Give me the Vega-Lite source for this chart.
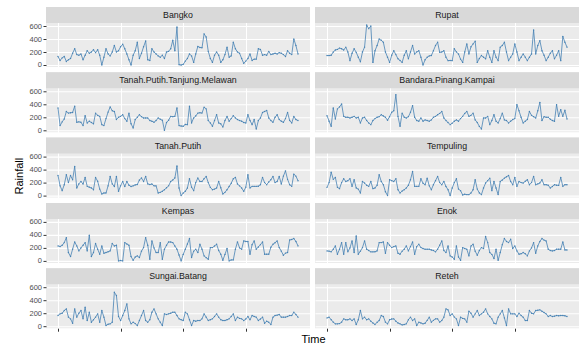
{
  "$schema": "https://vega.github.io/schema/vega-lite/v6.json",
  "background": "#ffffff",
  "padding": {"left": 13, "top": 7, "right": 0, "bottom": 2},
  "title": {"text": "Time", "orient": "bottom", "anchor": "middle", "fontSize": 11, "fontWeight": "normal", "color": "#000000", "font": "Liberation Sans", "offset": 2, "dx": 17},
  "columns": 2,
  "bounds": "flush",
  "spacing": {"row": 5.3, "column": 5},
  "config": {
    "view": {"fill": "#ebebeb", "stroke": null},
    "axis": {"domain": false, "grid": true, "gridColor": "#ffffff", "tickColor": "#333333", "tickSize": 3, "tickWidth": 1, "labelColor": "#4d4d4d", "labelFontSize": 7.5, "labelFont": "Liberation Sans", "labelPadding": 1.5, "titleFont": "Liberation Sans", "titleFontSize": 11, "titleFontWeight": "normal", "titleColor": "#000000", "titlePadding": 4}
  },
  "concat": [
    {"width": 264, "height": 60, "resolve": {"axis": {"x": "independent", "y": "independent"}}, "layer": [
      {"data": {"name": "bangko"}, "mark": {"type": "line", "color": "#4682b4", "strokeWidth": 0.8}, "encoding": {
        "x": {"field": "t", "type": "quantitative", "scale": {"domain": [-5.75, 120.75], "nice": false, "zero": false}, "axis": {"values": [0, 30, 60, 90], "gridWidth": 1.1, "labels": false, "ticks": false, "title": null}},
        "y": {"field": "r", "type": "quantitative", "scale": {"domain": [-31, 893.5], "nice": false, "zero": false}, "axis": {"values": [0, 200, 400, 600], "gridWidth": 1.1, "title": null}}}},
      {"data": {"name": "bangko"}, "mark": {"type": "circle", "color": "#4682b4", "size": 2, "opacity": 1}, "encoding": {
        "x": {"field": "t", "type": "quantitative", "axis": {"values": [15, 45, 75, 105], "gridWidth": 0.5, "labels": false, "ticks": false, "title": null}},
        "y": {"field": "r", "type": "quantitative", "axis": {"values": [100, 300, 500], "gridWidth": 0.5, "labels": false, "ticks": false, "title": null}}}},
      {"data": {"values": [{}]}, "mark": {"type": "rect", "fill": "#d9d9d9"}, "encoding": {"x": {"datum": -5.75, "type": "quantitative", "axis": null}, "x2": {"datum": 120.75}, "y": {"datum": 647, "type": "quantitative", "axis": null}, "y2": {"datum": 893.5}}},
      {"data": {"values": [{}]}, "mark": {"type": "text", "text": "Bangko", "font": "Liberation Sans", "fontSize": 8.8, "color": "#1a1a1a"}, "encoding": {"x": {"datum": 57.5, "type": "quantitative", "axis": null}, "y": {"datum": 770, "type": "quantitative", "axis": null}}}
    ]},
    {"width": 264, "height": 60, "resolve": {"axis": {"x": "independent", "y": "independent"}}, "layer": [
      {"data": {"name": "rupat"}, "mark": {"type": "line", "color": "#4682b4", "strokeWidth": 0.8}, "encoding": {
        "x": {"field": "t", "type": "quantitative", "scale": {"domain": [-5.75, 120.75], "nice": false, "zero": false}, "axis": {"values": [0, 30, 60, 90], "gridWidth": 1.1, "labels": false, "ticks": false, "title": null}},
        "y": {"field": "r", "type": "quantitative", "scale": {"domain": [-31, 893.5], "nice": false, "zero": false}, "axis": {"values": [0, 200, 400, 600], "gridWidth": 1.1, "labels": false, "ticks": false, "title": null}}}},
      {"data": {"name": "rupat"}, "mark": {"type": "circle", "color": "#4682b4", "size": 2, "opacity": 1}, "encoding": {
        "x": {"field": "t", "type": "quantitative", "axis": {"values": [15, 45, 75, 105], "gridWidth": 0.5, "labels": false, "ticks": false, "title": null}},
        "y": {"field": "r", "type": "quantitative", "axis": {"values": [100, 300, 500], "gridWidth": 0.5, "labels": false, "ticks": false, "title": null}}}},
      {"data": {"values": [{}]}, "mark": {"type": "rect", "fill": "#d9d9d9"}, "encoding": {"x": {"datum": -5.75, "type": "quantitative", "axis": null}, "x2": {"datum": 120.75}, "y": {"datum": 647, "type": "quantitative", "axis": null}, "y2": {"datum": 893.5}}},
      {"data": {"values": [{}]}, "mark": {"type": "text", "text": "Rupat", "font": "Liberation Sans", "fontSize": 8.8, "color": "#1a1a1a"}, "encoding": {"x": {"datum": 57.5, "type": "quantitative", "axis": null}, "y": {"datum": 770, "type": "quantitative", "axis": null}}}
    ]},
    {"width": 264, "height": 60, "resolve": {"axis": {"x": "independent", "y": "independent"}}, "layer": [
      {"data": {"name": "tptm"}, "mark": {"type": "line", "color": "#4682b4", "strokeWidth": 0.8}, "encoding": {
        "x": {"field": "t", "type": "quantitative", "scale": {"domain": [-5.75, 120.75], "nice": false, "zero": false}, "axis": {"values": [0, 30, 60, 90], "gridWidth": 1.1, "labels": false, "ticks": false, "title": null}},
        "y": {"field": "r", "type": "quantitative", "scale": {"domain": [-31, 893.5], "nice": false, "zero": false}, "axis": {"values": [0, 200, 400, 600], "gridWidth": 1.1, "title": null}}}},
      {"data": {"name": "tptm"}, "mark": {"type": "circle", "color": "#4682b4", "size": 2, "opacity": 1}, "encoding": {
        "x": {"field": "t", "type": "quantitative", "axis": {"values": [15, 45, 75, 105], "gridWidth": 0.5, "labels": false, "ticks": false, "title": null}},
        "y": {"field": "r", "type": "quantitative", "axis": {"values": [100, 300, 500], "gridWidth": 0.5, "labels": false, "ticks": false, "title": null}}}},
      {"data": {"values": [{}]}, "mark": {"type": "rect", "fill": "#d9d9d9"}, "encoding": {"x": {"datum": -5.75, "type": "quantitative", "axis": null}, "x2": {"datum": 120.75}, "y": {"datum": 647, "type": "quantitative", "axis": null}, "y2": {"datum": 893.5}}},
      {"data": {"values": [{}]}, "mark": {"type": "text", "text": "Tanah.Putih.Tanjung.Melawan", "font": "Liberation Sans", "fontSize": 8.8, "color": "#1a1a1a"}, "encoding": {"x": {"datum": 57.5, "type": "quantitative", "axis": null}, "y": {"datum": 770, "type": "quantitative", "axis": null}}}
    ]},
    {"width": 264, "height": 60, "resolve": {"axis": {"x": "independent", "y": "independent"}}, "layer": [
      {"data": {"name": "bpk"}, "mark": {"type": "line", "color": "#4682b4", "strokeWidth": 0.8}, "encoding": {
        "x": {"field": "t", "type": "quantitative", "scale": {"domain": [-5.75, 120.75], "nice": false, "zero": false}, "axis": {"values": [0, 30, 60, 90], "gridWidth": 1.1, "labels": false, "ticks": false, "title": null}},
        "y": {"field": "r", "type": "quantitative", "scale": {"domain": [-31, 893.5], "nice": false, "zero": false}, "axis": {"values": [0, 200, 400, 600], "gridWidth": 1.1, "labels": false, "ticks": false, "title": null}}}},
      {"data": {"name": "bpk"}, "mark": {"type": "circle", "color": "#4682b4", "size": 2, "opacity": 1}, "encoding": {
        "x": {"field": "t", "type": "quantitative", "axis": {"values": [15, 45, 75, 105], "gridWidth": 0.5, "labels": false, "ticks": false, "title": null}},
        "y": {"field": "r", "type": "quantitative", "axis": {"values": [100, 300, 500], "gridWidth": 0.5, "labels": false, "ticks": false, "title": null}}}},
      {"data": {"values": [{}]}, "mark": {"type": "rect", "fill": "#d9d9d9"}, "encoding": {"x": {"datum": -5.75, "type": "quantitative", "axis": null}, "x2": {"datum": 120.75}, "y": {"datum": 647, "type": "quantitative", "axis": null}, "y2": {"datum": 893.5}}},
      {"data": {"values": [{}]}, "mark": {"type": "text", "text": "Bandara.Pinang.Kampai", "font": "Liberation Sans", "fontSize": 8.8, "color": "#1a1a1a"}, "encoding": {"x": {"datum": 57.5, "type": "quantitative", "axis": null}, "y": {"datum": 770, "type": "quantitative", "axis": null}}}
    ]},
    {"width": 264, "height": 60, "resolve": {"axis": {"x": "independent", "y": "independent"}}, "layer": [
      {"data": {"name": "tp"}, "mark": {"type": "line", "color": "#4682b4", "strokeWidth": 0.8}, "encoding": {
        "x": {"field": "t", "type": "quantitative", "scale": {"domain": [-5.75, 120.75], "nice": false, "zero": false}, "axis": {"values": [0, 30, 60, 90], "gridWidth": 1.1, "labels": false, "ticks": false, "title": null}},
        "y": {"field": "r", "type": "quantitative", "scale": {"domain": [-31, 893.5], "nice": false, "zero": false}, "axis": {"values": [0, 200, 400, 600], "gridWidth": 1.1, "title": "Rainfall", "titleY": 38}}}},
      {"data": {"name": "tp"}, "mark": {"type": "circle", "color": "#4682b4", "size": 2, "opacity": 1}, "encoding": {
        "x": {"field": "t", "type": "quantitative", "axis": {"values": [15, 45, 75, 105], "gridWidth": 0.5, "labels": false, "ticks": false, "title": null}},
        "y": {"field": "r", "type": "quantitative", "axis": {"values": [100, 300, 500], "gridWidth": 0.5, "labels": false, "ticks": false, "title": null}}}},
      {"data": {"values": [{}]}, "mark": {"type": "rect", "fill": "#d9d9d9"}, "encoding": {"x": {"datum": -5.75, "type": "quantitative", "axis": null}, "x2": {"datum": 120.75}, "y": {"datum": 647, "type": "quantitative", "axis": null}, "y2": {"datum": 893.5}}},
      {"data": {"values": [{}]}, "mark": {"type": "text", "text": "Tanah.Putih", "font": "Liberation Sans", "fontSize": 8.8, "color": "#1a1a1a"}, "encoding": {"x": {"datum": 57.5, "type": "quantitative", "axis": null}, "y": {"datum": 770, "type": "quantitative", "axis": null}}}
    ]},
    {"width": 264, "height": 60, "resolve": {"axis": {"x": "independent", "y": "independent"}}, "layer": [
      {"data": {"name": "tempuling"}, "mark": {"type": "line", "color": "#4682b4", "strokeWidth": 0.8}, "encoding": {
        "x": {"field": "t", "type": "quantitative", "scale": {"domain": [-5.75, 120.75], "nice": false, "zero": false}, "axis": {"values": [0, 30, 60, 90], "gridWidth": 1.1, "labels": false, "ticks": false, "title": null}},
        "y": {"field": "r", "type": "quantitative", "scale": {"domain": [-31, 893.5], "nice": false, "zero": false}, "axis": {"values": [0, 200, 400, 600], "gridWidth": 1.1, "labels": false, "ticks": false, "title": null}}}},
      {"data": {"name": "tempuling"}, "mark": {"type": "circle", "color": "#4682b4", "size": 2, "opacity": 1}, "encoding": {
        "x": {"field": "t", "type": "quantitative", "axis": {"values": [15, 45, 75, 105], "gridWidth": 0.5, "labels": false, "ticks": false, "title": null}},
        "y": {"field": "r", "type": "quantitative", "axis": {"values": [100, 300, 500], "gridWidth": 0.5, "labels": false, "ticks": false, "title": null}}}},
      {"data": {"values": [{}]}, "mark": {"type": "rect", "fill": "#d9d9d9"}, "encoding": {"x": {"datum": -5.75, "type": "quantitative", "axis": null}, "x2": {"datum": 120.75}, "y": {"datum": 647, "type": "quantitative", "axis": null}, "y2": {"datum": 893.5}}},
      {"data": {"values": [{}]}, "mark": {"type": "text", "text": "Tempuling", "font": "Liberation Sans", "fontSize": 8.8, "color": "#1a1a1a"}, "encoding": {"x": {"datum": 57.5, "type": "quantitative", "axis": null}, "y": {"datum": 770, "type": "quantitative", "axis": null}}}
    ]},
    {"width": 264, "height": 60, "resolve": {"axis": {"x": "independent", "y": "independent"}}, "layer": [
      {"data": {"name": "kempas"}, "mark": {"type": "line", "color": "#4682b4", "strokeWidth": 0.8}, "encoding": {
        "x": {"field": "t", "type": "quantitative", "scale": {"domain": [-5.75, 120.75], "nice": false, "zero": false}, "axis": {"values": [0, 30, 60, 90], "gridWidth": 1.1, "labels": false, "ticks": false, "title": null}},
        "y": {"field": "r", "type": "quantitative", "scale": {"domain": [-31, 893.5], "nice": false, "zero": false}, "axis": {"values": [0, 200, 400, 600], "gridWidth": 1.1, "title": null}}}},
      {"data": {"name": "kempas"}, "mark": {"type": "circle", "color": "#4682b4", "size": 2, "opacity": 1}, "encoding": {
        "x": {"field": "t", "type": "quantitative", "axis": {"values": [15, 45, 75, 105], "gridWidth": 0.5, "labels": false, "ticks": false, "title": null}},
        "y": {"field": "r", "type": "quantitative", "axis": {"values": [100, 300, 500], "gridWidth": 0.5, "labels": false, "ticks": false, "title": null}}}},
      {"data": {"values": [{}]}, "mark": {"type": "rect", "fill": "#d9d9d9"}, "encoding": {"x": {"datum": -5.75, "type": "quantitative", "axis": null}, "x2": {"datum": 120.75}, "y": {"datum": 647, "type": "quantitative", "axis": null}, "y2": {"datum": 893.5}}},
      {"data": {"values": [{}]}, "mark": {"type": "text", "text": "Kempas", "font": "Liberation Sans", "fontSize": 8.8, "color": "#1a1a1a"}, "encoding": {"x": {"datum": 57.5, "type": "quantitative", "axis": null}, "y": {"datum": 770, "type": "quantitative", "axis": null}}}
    ]},
    {"width": 264, "height": 60, "resolve": {"axis": {"x": "independent", "y": "independent"}}, "layer": [
      {"data": {"name": "enok"}, "mark": {"type": "line", "color": "#4682b4", "strokeWidth": 0.8}, "encoding": {
        "x": {"field": "t", "type": "quantitative", "scale": {"domain": [-5.75, 120.75], "nice": false, "zero": false}, "axis": {"values": [0, 30, 60, 90], "gridWidth": 1.1, "labels": false, "ticks": false, "title": null}},
        "y": {"field": "r", "type": "quantitative", "scale": {"domain": [-31, 893.5], "nice": false, "zero": false}, "axis": {"values": [0, 200, 400, 600], "gridWidth": 1.1, "labels": false, "ticks": false, "title": null}}}},
      {"data": {"name": "enok"}, "mark": {"type": "circle", "color": "#4682b4", "size": 2, "opacity": 1}, "encoding": {
        "x": {"field": "t", "type": "quantitative", "axis": {"values": [15, 45, 75, 105], "gridWidth": 0.5, "labels": false, "ticks": false, "title": null}},
        "y": {"field": "r", "type": "quantitative", "axis": {"values": [100, 300, 500], "gridWidth": 0.5, "labels": false, "ticks": false, "title": null}}}},
      {"data": {"values": [{}]}, "mark": {"type": "rect", "fill": "#d9d9d9"}, "encoding": {"x": {"datum": -5.75, "type": "quantitative", "axis": null}, "x2": {"datum": 120.75}, "y": {"datum": 647, "type": "quantitative", "axis": null}, "y2": {"datum": 893.5}}},
      {"data": {"values": [{}]}, "mark": {"type": "text", "text": "Enok", "font": "Liberation Sans", "fontSize": 8.8, "color": "#1a1a1a"}, "encoding": {"x": {"datum": 57.5, "type": "quantitative", "axis": null}, "y": {"datum": 770, "type": "quantitative", "axis": null}}}
    ]},
    {"width": 264, "height": 60, "resolve": {"axis": {"x": "independent", "y": "independent"}}, "layer": [
      {"data": {"name": "sb"}, "mark": {"type": "line", "color": "#4682b4", "strokeWidth": 0.8}, "encoding": {
        "x": {"field": "t", "type": "quantitative", "scale": {"domain": [-5.75, 120.75], "nice": false, "zero": false}, "axis": {"values": [0, 30, 60, 90], "gridWidth": 1.1, "labels": false, "title": null}},
        "y": {"field": "r", "type": "quantitative", "scale": {"domain": [-31, 893.5], "nice": false, "zero": false}, "axis": {"values": [0, 200, 400, 600], "gridWidth": 1.1, "title": null}}}},
      {"data": {"name": "sb"}, "mark": {"type": "circle", "color": "#4682b4", "size": 2, "opacity": 1}, "encoding": {
        "x": {"field": "t", "type": "quantitative", "axis": {"values": [15, 45, 75, 105], "gridWidth": 0.5, "labels": false, "ticks": false, "title": null}},
        "y": {"field": "r", "type": "quantitative", "axis": {"values": [100, 300, 500], "gridWidth": 0.5, "labels": false, "ticks": false, "title": null}}}},
      {"data": {"values": [{}]}, "mark": {"type": "rect", "fill": "#d9d9d9"}, "encoding": {"x": {"datum": -5.75, "type": "quantitative", "axis": null}, "x2": {"datum": 120.75}, "y": {"datum": 647, "type": "quantitative", "axis": null}, "y2": {"datum": 893.5}}},
      {"data": {"values": [{}]}, "mark": {"type": "text", "text": "Sungai.Batang", "font": "Liberation Sans", "fontSize": 8.8, "color": "#1a1a1a"}, "encoding": {"x": {"datum": 57.5, "type": "quantitative", "axis": null}, "y": {"datum": 770, "type": "quantitative", "axis": null}}}
    ]},
    {"width": 264, "height": 60, "resolve": {"axis": {"x": "independent", "y": "independent"}}, "layer": [
      {"data": {"name": "reteh"}, "mark": {"type": "line", "color": "#4682b4", "strokeWidth": 0.8}, "encoding": {
        "x": {"field": "t", "type": "quantitative", "scale": {"domain": [-5.75, 120.75], "nice": false, "zero": false}, "axis": {"values": [0, 30, 60, 90], "gridWidth": 1.1, "labels": false, "title": null}},
        "y": {"field": "r", "type": "quantitative", "scale": {"domain": [-31, 893.5], "nice": false, "zero": false}, "axis": {"values": [0, 200, 400, 600], "gridWidth": 1.1, "labels": false, "ticks": false, "title": null}}}},
      {"data": {"name": "reteh"}, "mark": {"type": "circle", "color": "#4682b4", "size": 2, "opacity": 1}, "encoding": {
        "x": {"field": "t", "type": "quantitative", "axis": {"values": [15, 45, 75, 105], "gridWidth": 0.5, "labels": false, "ticks": false, "title": null}},
        "y": {"field": "r", "type": "quantitative", "axis": {"values": [100, 300, 500], "gridWidth": 0.5, "labels": false, "ticks": false, "title": null}}}},
      {"data": {"values": [{}]}, "mark": {"type": "rect", "fill": "#d9d9d9"}, "encoding": {"x": {"datum": -5.75, "type": "quantitative", "axis": null}, "x2": {"datum": 120.75}, "y": {"datum": 647, "type": "quantitative", "axis": null}, "y2": {"datum": 893.5}}},
      {"data": {"values": [{}]}, "mark": {"type": "text", "text": "Reteh", "font": "Liberation Sans", "fontSize": 8.8, "color": "#1a1a1a"}, "encoding": {"x": {"datum": 57.5, "type": "quantitative", "axis": null}, "y": {"datum": 770, "type": "quantitative", "axis": null}}}
    ]}
  ],
  "datasets": {
    "bangko": [
      {"t":0,"r":130},{"t":1,"r":70},{"t":2,"r":110},{"t":3,"r":130},{"t":4,"r":55},{"t":5,"r":80},{"t":6,"r":100},{"t":7,"r":180},{"t":8,"r":250},{"t":9,"r":160},
      {"t":10,"r":150},{"t":11,"r":170},{"t":12,"r":80},{"t":13,"r":150},{"t":14,"r":220},{"t":15,"r":180},{"t":16,"r":200},{"t":17,"r":235},{"t":18,"r":190},{"t":19,"r":235},
      {"t":20,"r":150},{"t":21,"r":0},{"t":22,"r":120},{"t":23,"r":250},{"t":24,"r":170},{"t":25,"r":140},{"t":26,"r":200},{"t":27,"r":300},{"t":28,"r":200},{"t":29,"r":220},
      {"t":30,"r":280},{"t":31,"r":320},{"t":32,"r":250},{"t":33,"r":170},{"t":34,"r":80},{"t":35,"r":0},{"t":36,"r":150},{"t":37,"r":220},{"t":38,"r":350},{"t":39,"r":100},
      {"t":40,"r":180},{"t":41,"r":280},{"t":42,"r":370},{"t":43,"r":80},{"t":44,"r":70},{"t":45,"r":250},{"t":46,"r":200},{"t":47,"r":170},{"t":48,"r":140},{"t":49,"r":120},
      {"t":50,"r":150},{"t":51,"r":100},{"t":52,"r":200},{"t":53,"r":210},{"t":54,"r":250},{"t":55,"r":380},{"t":56,"r":220},{"t":57,"r":585},{"t":58,"r":5},{"t":59,"r":0},
      {"t":60,"r":10},{"t":61,"r":60},{"t":62,"r":100},{"t":63,"r":170},{"t":64,"r":140},{"t":65,"r":40},{"t":66,"r":170},{"t":67,"r":285},{"t":68,"r":270},{"t":69,"r":265},
      {"t":70,"r":480},{"t":71,"r":430},{"t":72,"r":210},{"t":73,"r":100},{"t":74,"r":40},{"t":75,"r":150},{"t":76,"r":200},{"t":77,"r":150},{"t":78,"r":40},{"t":79,"r":80},
      {"t":80,"r":160},{"t":81,"r":275},{"t":82,"r":120},{"t":83,"r":140},{"t":84,"r":350},{"t":85,"r":250},{"t":86,"r":200},{"t":87,"r":180},{"t":88,"r":100},{"t":89,"r":25},
      {"t":90,"r":60},{"t":91,"r":100},{"t":92,"r":170},{"t":93,"r":70},{"t":94,"r":90},{"t":95,"r":90},{"t":96,"r":250},{"t":97,"r":240},{"t":98,"r":150},{"t":99,"r":160},
      {"t":100,"r":150},{"t":101,"r":210},{"t":102,"r":160},{"t":103,"r":170},{"t":104,"r":180},{"t":105,"r":170},{"t":106,"r":190},{"t":107,"r":180},{"t":108,"r":160},{"t":109,"r":130},
      {"t":110,"r":220},{"t":111,"r":180},{"t":112,"r":160},{"t":113,"r":400},{"t":114,"r":300},{"t":115,"r":170}
    ],
    "rupat": [
      {"t":0,"r":145},{"t":1,"r":145},{"t":2,"r":150},{"t":3,"r":200},{"t":4,"r":230},{"t":5,"r":240},{"t":6,"r":260},{"t":7,"r":250},{"t":8,"r":230},{"t":9,"r":275},
      {"t":10,"r":200},{"t":11,"r":67},{"t":12,"r":180},{"t":13,"r":250},{"t":14,"r":195},{"t":15,"r":120},{"t":16,"r":50},{"t":17,"r":200},{"t":18,"r":275},{"t":19,"r":616},
      {"t":20,"r":560},{"t":21,"r":600},{"t":22,"r":40},{"t":23,"r":220},{"t":24,"r":300},{"t":25,"r":400},{"t":26,"r":380},{"t":27,"r":350},{"t":28,"r":200},{"t":29,"r":120},
      {"t":30,"r":40},{"t":31,"r":150},{"t":32,"r":220},{"t":33,"r":160},{"t":34,"r":95},{"t":35,"r":70},{"t":36,"r":40},{"t":37,"r":150},{"t":38,"r":220},{"t":39,"r":95},
      {"t":40,"r":200},{"t":41,"r":300},{"t":42,"r":170},{"t":43,"r":200},{"t":44,"r":220},{"t":45,"r":120},{"t":46,"r":0},{"t":47,"r":80},{"t":48,"r":120},{"t":49,"r":140},
      {"t":50,"r":145},{"t":51,"r":220},{"t":52,"r":300},{"t":53,"r":350},{"t":54,"r":195},{"t":55,"r":200},{"t":56,"r":220},{"t":57,"r":120},{"t":58,"r":67},{"t":59,"r":70},
      {"t":60,"r":67},{"t":61,"r":250},{"t":62,"r":200},{"t":63,"r":170},{"t":64,"r":90},{"t":65,"r":40},{"t":66,"r":200},{"t":67,"r":325},{"t":68,"r":170},{"t":69,"r":280},
      {"t":70,"r":325},{"t":71,"r":365},{"t":72,"r":40},{"t":73,"r":100},{"t":74,"r":145},{"t":75,"r":120},{"t":76,"r":95},{"t":77,"r":220},{"t":78,"r":120},{"t":79,"r":40},
      {"t":80,"r":220},{"t":81,"r":120},{"t":82,"r":67},{"t":83,"r":275},{"t":84,"r":300},{"t":85,"r":350},{"t":86,"r":200},{"t":87,"r":67},{"t":88,"r":120},{"t":89,"r":170},
      {"t":90,"r":325},{"t":91,"r":200},{"t":92,"r":67},{"t":93,"r":120},{"t":94,"r":170},{"t":95,"r":120},{"t":96,"r":67},{"t":97,"r":120},{"t":98,"r":170},{"t":99,"r":540},
      {"t":100,"r":170},{"t":101,"r":300},{"t":102,"r":375},{"t":103,"r":220},{"t":104,"r":150},{"t":105,"r":67},{"t":106,"r":120},{"t":107,"r":180},{"t":108,"r":220},{"t":109,"r":95},
      {"t":110,"r":150},{"t":111,"r":220},{"t":112,"r":67},{"t":113,"r":440},{"t":114,"r":350},{"t":115,"r":275}
    ],
    "tptm": [
      {"t":0,"r":345},{"t":1,"r":72},{"t":2,"r":130},{"t":3,"r":175},{"t":4,"r":290},{"t":5,"r":265},{"t":6,"r":270},{"t":7,"r":275},{"t":8,"r":370},{"t":9,"r":123},
      {"t":10,"r":130},{"t":11,"r":123},{"t":12,"r":72},{"t":13,"r":225},{"t":14,"r":113},{"t":15,"r":140},{"t":16,"r":120},{"t":17,"r":100},{"t":18,"r":265},{"t":19,"r":230},
      {"t":20,"r":215},{"t":21,"r":87},{"t":22,"r":72},{"t":23,"r":180},{"t":24,"r":280},{"t":25,"r":360},{"t":26,"r":300},{"t":27,"r":290},{"t":28,"r":165},{"t":29,"r":200},
      {"t":30,"r":215},{"t":31,"r":240},{"t":32,"r":180},{"t":33,"r":140},{"t":34,"r":265},{"t":35,"r":100},{"t":36,"r":36},{"t":37,"r":165},{"t":38,"r":200},{"t":39,"r":240},
      {"t":40,"r":210},{"t":41,"r":190},{"t":42,"r":190},{"t":43,"r":190},{"t":44,"r":150},{"t":45,"r":140},{"t":46,"r":123},{"t":47,"r":150},{"t":48,"r":190},{"t":49,"r":170},
      {"t":50,"r":155},{"t":51,"r":0},{"t":52,"r":120},{"t":53,"r":155},{"t":54,"r":215},{"t":55,"r":210},{"t":56,"r":215},{"t":57,"r":345},{"t":58,"r":72},{"t":59,"r":65},
      {"t":60,"r":62},{"t":61,"r":90},{"t":62,"r":87},{"t":63,"r":370},{"t":64,"r":113},{"t":65,"r":190},{"t":66,"r":220},{"t":67,"r":265},{"t":68,"r":270},{"t":69,"r":265},
      {"t":70,"r":355},{"t":71,"r":330},{"t":72,"r":150},{"t":73,"r":113},{"t":74,"r":62},{"t":75,"r":150},{"t":76,"r":240},{"t":77,"r":113},{"t":78,"r":100},{"t":79,"r":51},
      {"t":80,"r":150},{"t":81,"r":215},{"t":82,"r":140},{"t":83,"r":180},{"t":84,"r":225},{"t":85,"r":190},{"t":86,"r":165},{"t":87,"r":150},{"t":88,"r":140},{"t":89,"r":120},
      {"t":90,"r":113},{"t":91,"r":240},{"t":92,"r":150},{"t":93,"r":87},{"t":94,"r":165},{"t":95,"r":20},{"t":96,"r":150},{"t":97,"r":190},{"t":98,"r":275},{"t":99,"r":290},
      {"t":100,"r":305},{"t":101,"r":190},{"t":102,"r":150},{"t":103,"r":123},{"t":104,"r":200},{"t":105,"r":240},{"t":106,"r":165},{"t":107,"r":140},{"t":108,"r":123},{"t":109,"r":180},
      {"t":110,"r":275},{"t":111,"r":150},{"t":112,"r":113},{"t":113,"r":215},{"t":114,"r":165},{"t":115,"r":150}
    ],
    "bpk": [
      {"t":0,"r":225},{"t":1,"r":140},{"t":2,"r":62},{"t":3,"r":345},{"t":4,"r":175},{"t":5,"r":330},{"t":6,"r":360},{"t":7,"r":405},{"t":8,"r":215},{"t":9,"r":200},
      {"t":10,"r":200},{"t":11,"r":190},{"t":12,"r":200},{"t":13,"r":215},{"t":14,"r":190},{"t":15,"r":200},{"t":16,"r":113},{"t":17,"r":190},{"t":18,"r":200},{"t":19,"r":150},
      {"t":20,"r":113},{"t":21,"r":87},{"t":22,"r":150},{"t":23,"r":180},{"t":24,"r":200},{"t":25,"r":210},{"t":26,"r":240},{"t":27,"r":220},{"t":28,"r":200},{"t":29,"r":155},
      {"t":30,"r":210},{"t":31,"r":277},{"t":32,"r":300},{"t":33,"r":550},{"t":34,"r":215},{"t":35,"r":62},{"t":36,"r":265},{"t":37,"r":200},{"t":38,"r":190},{"t":39,"r":210},
      {"t":40,"r":277},{"t":41,"r":380},{"t":42,"r":200},{"t":43,"r":150},{"t":44,"r":140},{"t":45,"r":190},{"t":46,"r":140},{"t":47,"r":160},{"t":48,"r":150},{"t":49,"r":140},
      {"t":50,"r":160},{"t":51,"r":200},{"t":52,"r":215},{"t":53,"r":240},{"t":54,"r":260},{"t":55,"r":290},{"t":56,"r":190},{"t":57,"r":150},{"t":58,"r":120},{"t":59,"r":87},
      {"t":60,"r":110},{"t":61,"r":140},{"t":62,"r":160},{"t":63,"r":140},{"t":64,"r":180},{"t":65,"r":215},{"t":66,"r":260},{"t":67,"r":290},{"t":68,"r":215},{"t":69,"r":230},
      {"t":70,"r":265},{"t":71,"r":160},{"t":72,"r":120},{"t":73,"r":60},{"t":74,"r":20},{"t":75,"r":190},{"t":76,"r":190},{"t":77,"r":215},{"t":78,"r":87},{"t":79,"r":150},
      {"t":80,"r":240},{"t":81,"r":140},{"t":82,"r":113},{"t":83,"r":180},{"t":84,"r":265},{"t":85,"r":160},{"t":86,"r":150},{"t":87,"r":113},{"t":88,"r":140},{"t":89,"r":165},
      {"t":90,"r":180},{"t":91,"r":395},{"t":92,"r":300},{"t":93,"r":200},{"t":94,"r":113},{"t":95,"r":140},{"t":96,"r":165},{"t":97,"r":290},{"t":98,"r":230},{"t":99,"r":210},
      {"t":100,"r":190},{"t":101,"r":300},{"t":102,"r":430},{"t":103,"r":150},{"t":104,"r":210},{"t":105,"r":200},{"t":106,"r":200},{"t":107,"r":170},{"t":108,"r":150},{"t":109,"r":140},
      {"t":110,"r":395},{"t":111,"r":215},{"t":112,"r":318},{"t":113,"r":215},{"t":114,"r":308},{"t":115,"r":175}
    ],
    "tp": [
      {"t":0,"r":310},{"t":1,"r":150},{"t":2,"r":76},{"t":3,"r":168},{"t":4,"r":320},{"t":5,"r":200},{"t":6,"r":310},{"t":7,"r":244},{"t":8,"r":447},{"t":9,"r":117},
      {"t":10,"r":180},{"t":11,"r":218},{"t":12,"r":178},{"t":13,"r":280},{"t":14,"r":142},{"t":15,"r":130},{"t":16,"r":117},{"t":17,"r":91},{"t":18,"r":280},{"t":19,"r":220},
      {"t":20,"r":100},{"t":21,"r":25},{"t":22,"r":40},{"t":23,"r":40},{"t":24,"r":150},{"t":25,"r":295},{"t":26,"r":180},{"t":27,"r":140},{"t":28,"r":295},{"t":29,"r":66},
      {"t":30,"r":150},{"t":31,"r":218},{"t":32,"r":140},{"t":33,"r":218},{"t":34,"r":160},{"t":35,"r":140},{"t":36,"r":150},{"t":37,"r":165},{"t":38,"r":170},{"t":39,"r":240},
      {"t":40,"r":270},{"t":41,"r":218},{"t":42,"r":295},{"t":43,"r":180},{"t":44,"r":170},{"t":45,"r":178},{"t":46,"r":150},{"t":47,"r":150},{"t":48,"r":40},{"t":49,"r":50},
      {"t":50,"r":66},{"t":51,"r":91},{"t":52,"r":120},{"t":53,"r":150},{"t":54,"r":218},{"t":55,"r":240},{"t":56,"r":270},{"t":57,"r":457},{"t":58,"r":117},{"t":59,"r":0},
      {"t":60,"r":40},{"t":61,"r":66},{"t":62,"r":117},{"t":63,"r":260},{"t":64,"r":130},{"t":65,"r":76},{"t":66,"r":200},{"t":67,"r":270},{"t":68,"r":218},{"t":69,"r":218},
      {"t":70,"r":260},{"t":71,"r":295},{"t":72,"r":200},{"t":73,"r":127},{"t":74,"r":91},{"t":75,"r":100},{"t":76,"r":117},{"t":77,"r":218},{"t":78,"r":120},{"t":79,"r":25},
      {"t":80,"r":50},{"t":81,"r":91},{"t":82,"r":140},{"t":83,"r":190},{"t":84,"r":260},{"t":85,"r":280},{"t":86,"r":178},{"t":87,"r":150},{"t":88,"r":117},{"t":89,"r":66},
      {"t":90,"r":130},{"t":91,"r":320},{"t":92,"r":117},{"t":93,"r":142},{"t":94,"r":142},{"t":95,"r":142},{"t":96,"r":145},{"t":97,"r":168},{"t":98,"r":280},{"t":99,"r":200},
      {"t":100,"r":168},{"t":101,"r":210},{"t":102,"r":244},{"t":103,"r":295},{"t":104,"r":200},{"t":105,"r":218},{"t":106,"r":295},{"t":107,"r":178},{"t":108,"r":300},{"t":109,"r":381},
      {"t":110,"r":250},{"t":111,"r":168},{"t":112,"r":142},{"t":113,"r":330},{"t":114,"r":300},{"t":115,"r":229}
    ],
    "tempuling": [
      {"t":0,"r":127},{"t":1,"r":200},{"t":2,"r":360},{"t":3,"r":250},{"t":4,"r":280},{"t":5,"r":127},{"t":6,"r":107},{"t":7,"r":200},{"t":8,"r":259},{"t":9,"r":218},
      {"t":10,"r":230},{"t":11,"r":259},{"t":12,"r":142},{"t":13,"r":244},{"t":14,"r":117},{"t":15,"r":100},{"t":16,"r":41},{"t":17,"r":218},{"t":18,"r":193},{"t":19,"r":160},
      {"t":20,"r":142},{"t":21,"r":218},{"t":22,"r":107},{"t":23,"r":117},{"t":24,"r":160},{"t":25,"r":320},{"t":26,"r":218},{"t":27,"r":168},{"t":28,"r":60},{"t":29,"r":0},
      {"t":30,"r":244},{"t":31,"r":230},{"t":32,"r":218},{"t":33,"r":259},{"t":34,"r":91},{"t":35,"r":41},{"t":36,"r":70},{"t":37,"r":91},{"t":38,"r":117},{"t":39,"r":160},
      {"t":40,"r":244},{"t":41,"r":370},{"t":42,"r":142},{"t":43,"r":142},{"t":44,"r":142},{"t":45,"r":259},{"t":46,"r":190},{"t":47,"r":168},{"t":48,"r":269},{"t":49,"r":150},
      {"t":50,"r":91},{"t":51,"r":168},{"t":52,"r":230},{"t":53,"r":295},{"t":54,"r":200},{"t":55,"r":168},{"t":56,"r":218},{"t":57,"r":140},{"t":58,"r":91},{"t":59,"r":0},
      {"t":60,"r":117},{"t":61,"r":200},{"t":62,"r":259},{"t":63,"r":100},{"t":64,"r":76},{"t":65,"r":10},{"t":66,"r":20},{"t":67,"r":15},{"t":68,"r":15},{"t":69,"r":40},
      {"t":70,"r":91},{"t":71,"r":244},{"t":72,"r":100},{"t":73,"r":41},{"t":74,"r":15},{"t":75,"r":117},{"t":76,"r":193},{"t":77,"r":230},{"t":78,"r":269},{"t":79,"r":76},
      {"t":80,"r":218},{"t":81,"r":117},{"t":82,"r":15},{"t":83,"r":218},{"t":84,"r":240},{"t":85,"r":269},{"t":86,"r":290},{"t":87,"r":310},{"t":88,"r":218},{"t":89,"r":168},
      {"t":90,"r":279},{"t":91,"r":142},{"t":92,"r":218},{"t":93,"r":200},{"t":94,"r":193},{"t":95,"r":220},{"t":96,"r":244},{"t":97,"r":168},{"t":98,"r":200},{"t":99,"r":295},
      {"t":100,"r":168},{"t":101,"r":180},{"t":102,"r":193},{"t":103,"r":244},{"t":104,"r":168},{"t":105,"r":168},{"t":106,"r":160},{"t":107,"r":117},{"t":108,"r":140},{"t":109,"r":168},
      {"t":110,"r":160},{"t":111,"r":157},{"t":112,"r":279},{"t":113,"r":142},{"t":114,"r":168},{"t":115,"r":168}
    ],
    "kempas": [
      {"t":0,"r":231},{"t":1,"r":221},{"t":2,"r":240},{"t":3,"r":282},{"t":4,"r":359},{"t":5,"r":128},{"t":6,"r":67},{"t":7,"r":180},{"t":8,"r":292},{"t":9,"r":231},
      {"t":10,"r":154},{"t":11,"r":200},{"t":12,"r":241},{"t":13,"r":282},{"t":14,"r":154},{"t":15,"r":395},{"t":16,"r":67},{"t":17,"r":128},{"t":18,"r":267},{"t":19,"r":180},
      {"t":20,"r":103},{"t":21,"r":231},{"t":22,"r":118},{"t":23,"r":128},{"t":24,"r":140},{"t":25,"r":154},{"t":26,"r":267},{"t":27,"r":230},{"t":28,"r":241},{"t":29,"r":0},
      {"t":30,"r":5},{"t":31,"r":0},{"t":32,"r":282},{"t":33,"r":260},{"t":34,"r":241},{"t":35,"r":67},{"t":36,"r":10},{"t":37,"r":60},{"t":38,"r":77},{"t":39,"r":51},
      {"t":40,"r":150},{"t":41,"r":205},{"t":42,"r":359},{"t":43,"r":241},{"t":44,"r":26},{"t":45,"r":308},{"t":46,"r":200},{"t":47,"r":128},{"t":48,"r":128},{"t":49,"r":282},
      {"t":50,"r":26},{"t":51,"r":180},{"t":52,"r":240},{"t":53,"r":292},{"t":54,"r":290},{"t":55,"r":282},{"t":56,"r":230},{"t":57,"r":180},{"t":58,"r":90},{"t":59,"r":0},
      {"t":60,"r":100},{"t":61,"r":180},{"t":62,"r":260},{"t":63,"r":344},{"t":64,"r":51},{"t":65,"r":150},{"t":66,"r":180},{"t":67,"r":128},{"t":68,"r":256},{"t":69,"r":180},
      {"t":70,"r":77},{"t":71,"r":50},{"t":72,"r":26},{"t":73,"r":205},{"t":74,"r":205},{"t":75,"r":230},{"t":76,"r":256},{"t":77,"r":160},{"t":78,"r":103},{"t":79,"r":10},
      {"t":80,"r":100},{"t":81,"r":190},{"t":82,"r":0},{"t":83,"r":15},{"t":84,"r":15},{"t":85,"r":180},{"t":86,"r":292},{"t":87,"r":200},{"t":88,"r":180},{"t":89,"r":308},
      {"t":90,"r":300},{"t":91,"r":298},{"t":92,"r":103},{"t":93,"r":250},{"t":94,"r":308},{"t":95,"r":180},{"t":96,"r":215},{"t":97,"r":250},{"t":98,"r":292},{"t":99,"r":103},
      {"t":100,"r":103},{"t":101,"r":103},{"t":102,"r":210},{"t":103,"r":256},{"t":104,"r":280},{"t":105,"r":308},{"t":106,"r":205},{"t":107,"r":150},{"t":108,"r":87},{"t":109,"r":120},
      {"t":110,"r":128},{"t":111,"r":323},{"t":112,"r":330},{"t":113,"r":344},{"t":114,"r":300},{"t":115,"r":231}
    ],
    "enok": [
      {"t":0,"r":154},{"t":1,"r":150},{"t":2,"r":139},{"t":3,"r":180},{"t":4,"r":231},{"t":5,"r":103},{"t":6,"r":180},{"t":7,"r":282},{"t":8,"r":103},{"t":9,"r":282},
      {"t":10,"r":139},{"t":11,"r":200},{"t":12,"r":308},{"t":13,"r":128},{"t":14,"r":385},{"t":15,"r":103},{"t":16,"r":150},{"t":17,"r":205},{"t":18,"r":308},{"t":19,"r":180},
      {"t":20,"r":160},{"t":21,"r":139},{"t":22,"r":139},{"t":23,"r":140},{"t":24,"r":154},{"t":25,"r":282},{"t":26,"r":282},{"t":27,"r":292},{"t":28,"r":118},{"t":29,"r":282},
      {"t":30,"r":240},{"t":31,"r":205},{"t":32,"r":220},{"t":33,"r":231},{"t":34,"r":118},{"t":35,"r":103},{"t":36,"r":150},{"t":37,"r":180},{"t":38,"r":231},{"t":39,"r":154},
      {"t":40,"r":220},{"t":41,"r":292},{"t":42,"r":103},{"t":43,"r":220},{"t":44,"r":256},{"t":45,"r":205},{"t":46,"r":190},{"t":47,"r":180},{"t":48,"r":180},{"t":49,"r":180},
      {"t":50,"r":169},{"t":51,"r":160},{"t":52,"r":139},{"t":53,"r":180},{"t":54,"r":240},{"t":55,"r":308},{"t":56,"r":160},{"t":57,"r":128},{"t":58,"r":231},{"t":59,"r":77},
      {"t":60,"r":60},{"t":61,"r":26},{"t":62,"r":231},{"t":63,"r":60},{"t":64,"r":10},{"t":65,"r":205},{"t":66,"r":190},{"t":67,"r":180},{"t":68,"r":77},{"t":69,"r":231},
      {"t":70,"r":256},{"t":71,"r":150},{"t":72,"r":87},{"t":73,"r":160},{"t":74,"r":205},{"t":75,"r":190},{"t":76,"r":375},{"t":77,"r":282},{"t":78,"r":128},{"t":79,"r":100},
      {"t":80,"r":36},{"t":81,"r":180},{"t":82,"r":10},{"t":83,"r":128},{"t":84,"r":250},{"t":85,"r":344},{"t":86,"r":300},{"t":87,"r":282},{"t":88,"r":333},{"t":89,"r":190},
      {"t":90,"r":231},{"t":91,"r":154},{"t":92,"r":103},{"t":93,"r":110},{"t":94,"r":128},{"t":95,"r":110},{"t":96,"r":77},{"t":97,"r":154},{"t":98,"r":200},{"t":99,"r":282},
      {"t":100,"r":118},{"t":101,"r":231},{"t":102,"r":300},{"t":103,"r":344},{"t":104,"r":320},{"t":105,"r":308},{"t":106,"r":180},{"t":107,"r":160},{"t":108,"r":154},{"t":109,"r":160},
      {"t":110,"r":180},{"t":111,"r":180},{"t":112,"r":180},{"t":113,"r":292},{"t":114,"r":169},{"t":115,"r":169}
    ],
    "sb": [
      {"t":0,"r":164},{"t":1,"r":190},{"t":2,"r":200},{"t":3,"r":241},{"t":4,"r":267},{"t":5,"r":139},{"t":6,"r":113},{"t":7,"r":46},{"t":8,"r":267},{"t":9,"r":139},
      {"t":10,"r":200},{"t":11,"r":241},{"t":12,"r":113},{"t":13,"r":292},{"t":14,"r":87},{"t":15,"r":215},{"t":16,"r":61},{"t":17,"r":100},{"t":18,"r":139},{"t":19,"r":190},
      {"t":20,"r":61},{"t":21,"r":241},{"t":22,"r":139},{"t":23,"r":10},{"t":24,"r":30},{"t":25,"r":36},{"t":26,"r":61},{"t":27,"r":523},{"t":28,"r":472},{"t":29,"r":150},
      {"t":30,"r":87},{"t":31,"r":164},{"t":32,"r":241},{"t":33,"r":344},{"t":34,"r":113},{"t":35,"r":36},{"t":36,"r":61},{"t":37,"r":40},{"t":38,"r":10},{"t":39,"r":87},
      {"t":40,"r":164},{"t":41,"r":241},{"t":42,"r":87},{"t":43,"r":61},{"t":44,"r":100},{"t":45,"r":215},{"t":46,"r":267},{"t":47,"r":190},{"t":48,"r":113},{"t":49,"r":60},
      {"t":50,"r":10},{"t":51,"r":190},{"t":52,"r":180},{"t":53,"r":190},{"t":54,"r":200},{"t":55,"r":215},{"t":56,"r":215},{"t":57,"r":164},{"t":58,"r":113},{"t":59,"r":100},
      {"t":60,"r":87},{"t":61,"r":215},{"t":62,"r":190},{"t":63,"r":100},{"t":64,"r":10},{"t":65,"r":87},{"t":66,"r":77},{"t":67,"r":87},{"t":68,"r":87},{"t":69,"r":113},
      {"t":70,"r":190},{"t":71,"r":139},{"t":72,"r":87},{"t":73,"r":100},{"t":74,"r":113},{"t":75,"r":150},{"t":76,"r":190},{"t":77,"r":139},{"t":78,"r":100},{"t":79,"r":87},
      {"t":80,"r":87},{"t":81,"r":100},{"t":82,"r":113},{"t":83,"r":150},{"t":84,"r":190},{"t":85,"r":87},{"t":86,"r":139},{"t":87,"r":120},{"t":88,"r":113},{"t":89,"r":87},
      {"t":90,"r":110},{"t":91,"r":149},{"t":92,"r":98},{"t":93,"r":164},{"t":94,"r":150},{"t":95,"r":139},{"t":96,"r":87},{"t":97,"r":110},{"t":98,"r":139},{"t":99,"r":46},
      {"t":100,"r":77},{"t":101,"r":60},{"t":102,"r":26},{"t":103,"r":139},{"t":104,"r":164},{"t":105,"r":170},{"t":106,"r":180},{"t":107,"r":139},{"t":108,"r":139},{"t":109,"r":139},
      {"t":110,"r":150},{"t":111,"r":164},{"t":112,"r":164},{"t":113,"r":215},{"t":114,"r":180},{"t":115,"r":139}
    ],
    "reteh": [
      {"t":0,"r":128},{"t":1,"r":139},{"t":2,"r":100},{"t":3,"r":62},{"t":4,"r":36},{"t":5,"r":36},{"t":6,"r":40},{"t":7,"r":62},{"t":8,"r":113},{"t":9,"r":98},
      {"t":10,"r":98},{"t":11,"r":113},{"t":12,"r":87},{"t":13,"r":113},{"t":14,"r":26},{"t":15,"r":98},{"t":16,"r":241},{"t":17,"r":113},{"t":18,"r":139},{"t":19,"r":98},
      {"t":20,"r":113},{"t":21,"r":77},{"t":22,"r":50},{"t":23,"r":26},{"t":24,"r":60},{"t":25,"r":87},{"t":26,"r":164},{"t":27,"r":149},{"t":28,"r":62},{"t":29,"r":36},
      {"t":30,"r":98},{"t":31,"r":110},{"t":32,"r":113},{"t":33,"r":77},{"t":34,"r":50},{"t":35,"r":36},{"t":36,"r":20},{"t":37,"r":25},{"t":38,"r":36},{"t":39,"r":100},
      {"t":40,"r":139},{"t":41,"r":87},{"t":42,"r":113},{"t":43,"r":10},{"t":44,"r":62},{"t":45,"r":50},{"t":46,"r":36},{"t":47,"r":46},{"t":48,"r":90},{"t":49,"r":139},
      {"t":50,"r":62},{"t":51,"r":90},{"t":52,"r":113},{"t":53,"r":113},{"t":54,"r":62},{"t":55,"r":87},{"t":56,"r":139},{"t":57,"r":267},{"t":58,"r":252},{"t":59,"r":164},
      {"t":60,"r":190},{"t":61,"r":140},{"t":62,"r":113},{"t":63,"r":10},{"t":64,"r":139},{"t":65,"r":120},{"t":66,"r":113},{"t":67,"r":62},{"t":68,"r":231},{"t":69,"r":200},
      {"t":70,"r":139},{"t":71,"r":190},{"t":72,"r":241},{"t":73,"r":164},{"t":74,"r":190},{"t":75,"r":215},{"t":76,"r":267},{"t":77,"r":190},{"t":78,"r":150},{"t":79,"r":113},
      {"t":80,"r":46},{"t":81,"r":36},{"t":82,"r":139},{"t":83,"r":190},{"t":84,"r":241},{"t":85,"r":128},{"t":86,"r":10},{"t":87,"r":267},{"t":88,"r":190},{"t":89,"r":190},
      {"t":90,"r":190},{"t":91,"r":149},{"t":92,"r":200},{"t":93,"r":164},{"t":94,"r":139},{"t":95,"r":87},{"t":96,"r":87},{"t":97,"r":241},{"t":98,"r":200},{"t":99,"r":190},
      {"t":100,"r":241},{"t":101,"r":245},{"t":102,"r":252},{"t":103,"r":231},{"t":104,"r":210},{"t":105,"r":190},{"t":106,"r":149},{"t":107,"r":164},{"t":108,"r":149},{"t":109,"r":155},
      {"t":110,"r":164},{"t":111,"r":160},{"t":112,"r":164},{"t":113,"r":164},{"t":114,"r":160},{"t":115,"r":149}
    ]
  }
}
